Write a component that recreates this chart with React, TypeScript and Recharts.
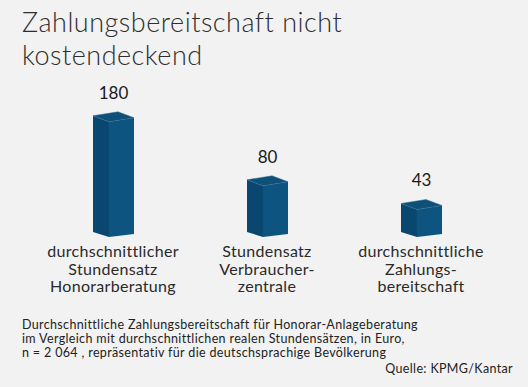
import React from "react";
import { BarChart, Bar, XAxis, YAxis, LabelList } from "recharts";

const categories = ["Honorarberatung", "Verbraucherzentrale", "Zahlungsbereitschaft"];
const categoryLines = [
  ["durchschnittlicher", "Stundensatz", "Honorarberatung"],
  ["Stundensatz", "Verbraucher-", "zentrale"],
  ["durchschnittliche", "Zahlungs-", "bereitschaft"],
];
const values = [180, 80, 43];
const titleLines = ["Zahlungsbereitschaft nicht", "kostendeckend"];
const noteLines = [
  "Durchschnittliche Zahlungsbereitschaft für Honorar-Anlageberatung",
  "im Vergleich mit durchschnittlichen realen Stundensätzen, in Euro,",
  "n = 2 064 , repräsentativ für die deutschsprachige Bevölkerung",
];
const sourceText = "Quelle: KPMG/Kantar";

const data = categories.map((c, i) => ({ name: c, value: values[i] }));

const FONT = "Lato, 'Open Sans', sans-serif";

const Box3D = (props: any) => {
  const { x, y, width, height } = props;
  const xf = x + width * 0.39;
  const xr = x + width;
  const xb = x + xr - xf;
  const yb = y + height;
  const left = `${x},${y - 6} ${xf},${y} ${xf},${yb} ${x},${yb - 5}`;
  const right = `${xf},${y} ${xr},${y - 4} ${xr},${yb - 3} ${xf},${yb}`;
  const top = `${x},${y - 6} ${xb},${y - 10} ${xr},${y - 4} ${xf},${y}`;
  return (
    <g>
      <polygon points={left} fill="#0a4770" />
      <polygon points={right} fill="#0d5481" />
      <polygon points={top} fill="#0f5078" stroke="#2f6f97" strokeWidth={0.5} />
    </g>
  );
};

const CatTick = (props: any) => {
  const { x, y, payload } = props;
  const lines = categoryLines[payload.index] || [];
  return (
    <text
      x={x}
      y={y}
      textAnchor="middle"
      fill="#2a2a2a"
      fontSize={16}
      letterSpacing={0.3}
      fontFamily={FONT}
    >
      {lines.map((l, i) => (
        <tspan key={i} x={x} dy={i === 0 ? 12 : 17.5}>
          {l}
        </tspan>
      ))}
    </text>
  );
};

export default function App() {
  return (
    <div
      style={{
        position: "absolute",
        left: 0,
        top: 0,
        width: 528,
        height: 387,
        background: "#f2f2f2",
        fontFamily: FONT,
        overflow: "hidden",
      }}
    >
      <BarChart
        width={528}
        height={387}
        data={data}
        margin={{ top: 109, right: 30, bottom: 120, left: 36 }}
      >
        <XAxis
          dataKey="name"
          axisLine={false}
          tickLine={false}
          interval={0}
          height={30}
          tick={<CatTick />}
        />
        <YAxis hide domain={[0, 200]} />
        <Bar dataKey="value" barSize={41} shape={<Box3D />} isAnimationActive={false}>
          <LabelList
            dataKey="value"
            position="top"
            offset={23}
            fill="#1a1a1a"
            fontSize={17}
            fontFamily={FONT}
          />
        </Bar>
      </BarChart>
      <svg
        width={528}
        height={387}
        style={{ position: "absolute", left: 0, top: 0, pointerEvents: "none" }}
      >
        {titleLines.map((t, i) => (
          <text
            key={i}
            x={22}
            y={32 + i * 33}
            fontSize={27}
            letterSpacing={0.5}
            fill="#2e2e2e"
            fontFamily={FONT}
            fontWeight={300}
          >
            {t}
          </text>
        ))}
        {noteLines.map((t, i) => (
          <text key={i} x={22} y={329 + i * 14} fontSize={12.5} letterSpacing={0.35} fill="#222" fontFamily={FONT}>
            {t}
          </text>
        ))}
        <text x={513} y={373} textAnchor="end" fontSize={12.5} letterSpacing={0.35} fill="#222" fontFamily={FONT}>
          {sourceText}
        </text>
      </svg>
    </div>
  );
}
